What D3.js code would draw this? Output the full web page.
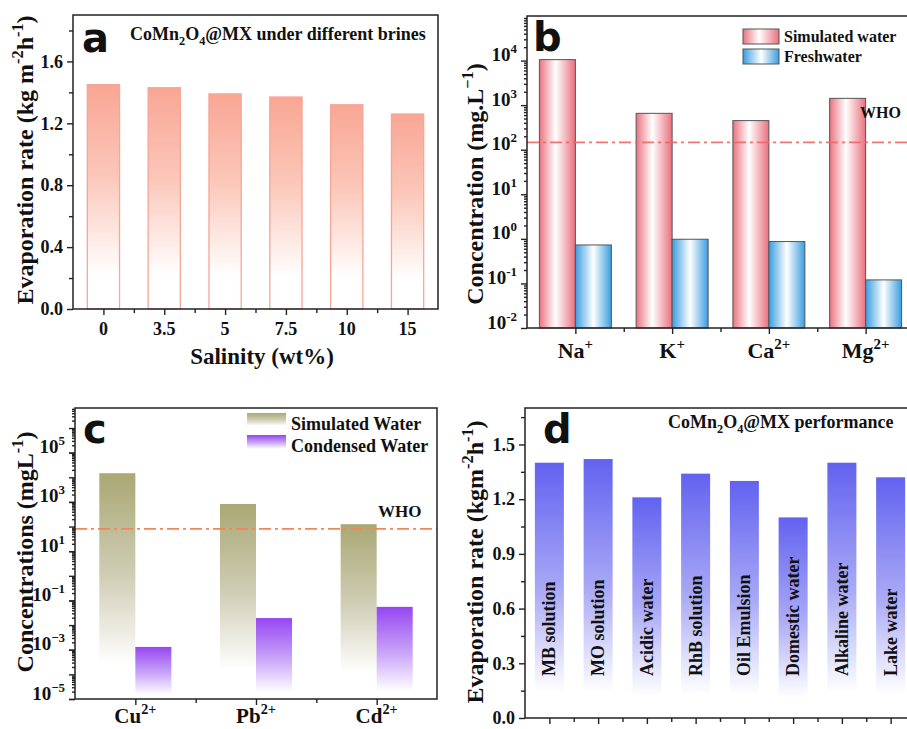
<!DOCTYPE html>
<html>
<head>
<meta charset="utf-8">
<script src="https://cdn.jsdelivr.net/npm/d3@7"></script>
<style>
  body { margin: 0; background: #fff; }
  svg { display: block; }
</style>
</head>
<body>
<div id="chart"></div>
<script>
// ---- data ----
const salinity = ["0", "3.5", "5", "7.5", "10", "15"];
const salinityRate = [1.45, 1.43, 1.39, 1.37, 1.32, 1.26];

const ionsB = ["Na", "K", "Ca", "Mg"];
const chargeB = ["+", "+", "2+", "2+"];
const simulatedB = [10500, 655, 450, 1420];
const freshB = [0.73, 0.98, 0.87, 0.12];
const whoB = 146;

const ionsC = ["Cu", "Pb", "Cd"];
const chargeC = ["2+", "2+", "2+"];
const simulatedC = [14600, 830, 125];
const condensedC = [0.0013, 0.0193, 0.055];
const whoC = 80;

const waterTypes = ["MB solution", "MO solution", "Acidic water", "RhB solution",
  "Oil Emulsion", "Domestic water", "Alkaline water", "Lake water"];
const waterRate = [1.40, 1.42, 1.21, 1.34, 1.30, 1.10, 1.40, 1.32];

const serif = "'Liberation Serif', 'Times New Roman', serif";
const W = 907, H = 729;

const svg = d3.select("#chart").append("svg")
  .attr("width", W).attr("height", H)
  .attr("font-family", serif).attr("font-weight", "bold");

const defs = svg.append("defs");
function vGrad(id, stops) {
  const g = defs.append("linearGradient").attr("id", id)
    .attr("x1", 0).attr("y1", 0).attr("x2", 0).attr("y2", 1);
  stops.forEach(s => g.append("stop").attr("offset", s[0]).attr("stop-color", s[1]));
}
function hGrad(id, stops) {
  const g = defs.append("linearGradient").attr("id", id)
    .attr("x1", 0).attr("y1", 0).attr("x2", 1).attr("y2", 0);
  stops.forEach(s => g.append("stop").attr("offset", s[0]).attr("stop-color", s[1]));
}
vGrad("gA", [[0, "#f9a694"], [0.4, "#fbc6b8"], [0.85, "#ffffff"], [1, "#ffffff"]]);
hGrad("gBsim", [[0, "#e9737f"], [0.45, "#ffffff"], [1, "#e9707d"]]);
hGrad("gBfresh", [[0, "#3a9de0"], [0.5, "#ffffff"], [1, "#3a9de0"]]);
vGrad("gCsim", [[0, "#aaa874"], [0.45, "#cfcdb4"], [0.85, "#ffffff"], [1, "#ffffff"]]);
vGrad("gCcond", [[0, "#9646f2"], [0.5, "#c9a4f8"], [0.92, "#ffffff"], [1, "#ffffff"]]);
vGrad("gD", [[0, "#6262f0"], [0.5, "#a9a9f6"], [0.9, "#ffffff"], [1, "#ffffff"]]);

// text with super/subscripts: parts = [[text, "sup"|"sub"|null], ...]
function rich(el, parts, size) {
  let shift = 0;
  parts.forEach(([t, k]) => {
    const target = k === "sup" ? -0.42 * size : k === "sub" ? 0.25 * size : 0;
    el.append("tspan").attr("dy", target - shift)
      .attr("font-size", k ? size * 0.68 : size).text(t);
    shift = target;
  });
  return el;
}

function frame(g, x0, x1, y0, y1) {
  g.append("rect").attr("x", x0).attr("y", y0)
    .attr("width", x1 - x0).attr("height", y1 - y0)
    .attr("fill", "none").attr("stroke", "#222").attr("stroke-width", 1.5);
}

function styleAxis(sel, size) {
  sel.attr("font-family", serif).attr("font-size", size).attr("font-weight", "bold");
  sel.select(".domain").remove();
  sel.selectAll(".tick line").attr("stroke", "#222").attr("stroke-width", 1.4);
  sel.selectAll(".tick text").attr("fill", "#111");
}

function xTicks(g, x, bottom) {
  const half = x.step() / 2;
  const centers = x.domain().map(d => x(d) + x.bandwidth() / 2);
  const lin = d3.scaleLinear().domain([0, 1]).range([0, 1]);
  g.append("g").attr("transform", `translate(0,${bottom})`)
    .call(d3.axisBottom(lin).tickValues(centers).tickSize(6).tickFormat(""))
    .call(s => styleAxis(s, 12));
  g.append("g").attr("transform", `translate(0,${bottom})`)
    .call(d3.axisBottom(lin).tickValues(centers.slice(0, -1).map(c => c + half)).tickSize(4).tickFormat(""))
    .call(s => styleAxis(s, 12));
}

function logTickLabels(sel, minus) {
  sel.selectAll(".tick text").each(function (d) {
    const e = Math.round(Math.log10(d));
    const t = d3.select(this).text(null);
    rich(t, [["10", null], [(e < 0 ? minus : "") + Math.abs(e), "sup"]], 19);
  });
}

function yTitle(g, x, y, parts) {
  const t = g.append("text").attr("transform", `translate(${x},${y}) rotate(-90)`)
    .attr("text-anchor", "middle").attr("fill", "#111");
  rich(t, parts, 24);
}

function letter(g, x, y, s) {
  g.append("text").attr("x", x).attr("y", y)
    .attr("font-family", "'DejaVu Sans', sans-serif").attr("font-size", 40)
    .attr("font-weight", "bold").attr("fill", "#111").text(s);
}

// ================= panel a =================
{
  const g = svg.append("g");
  const L = 73, R = 438, T = 15, B = 309;
  const x = d3.scaleBand().domain(salinity).range([L, R]).paddingInner(0.47).paddingOuter(0.235);
  const y = d3.scaleLinear().domain([0, 1.9]).range([B, T]);

  g.selectAll(".barA").data(salinity).enter().append("rect")
    .attr("x", d => x(d)).attr("y", (d, i) => y(salinityRate[i]))
    .attr("width", x.bandwidth()).attr("height", (d, i) => B - y(salinityRate[i]))
    .attr("fill", "url(#gA)").attr("stroke", "#f6a697").attr("stroke-width", 1.3);

  g.append("g").attr("transform", `translate(${L},0)`)
    .call(d3.axisLeft(y).tickValues([0, 0.4, 0.8, 1.2, 1.6]).tickSize(6).tickPadding(4).tickFormat(d3.format(".1f")))
    .call(s => styleAxis(s, 18));
  g.append("g").attr("transform", `translate(${L},0)`)
    .call(d3.axisLeft(y).tickValues([0.2, 0.6, 1.0, 1.4, 1.8]).tickSize(4).tickFormat(""))
    .call(s => styleAxis(s, 18));
  xTicks(g, x, B);

  g.selectAll(".xlA").data(salinity).enter().append("text")
    .attr("x", d => x(d) + x.bandwidth() / 2).attr("y", 335)
    .attr("text-anchor", "middle").attr("font-size", 18).attr("fill", "#111").text(d => d);

  frame(g, L, R, T, B);
  g.append("text").attr("x", 262).attr("y", 364).attr("text-anchor", "middle")
    .attr("font-size", 23).attr("fill", "#111").text("Salinity (wt%)");
  yTitle(g, 33, 160, [["Evaporation rate (kg m", null], ["-2", "sup"], ["h", null], ["-1", "sup"], [")", null]]);
  const tt = g.append("text").attr("x", 130).attr("y", 40).attr("fill", "#111");
  rich(tt, [["CoMn", null], ["2", "sub"], ["O", null], ["4", "sub"], ["@MX under different brines", null]], 18);
  letter(g, 82, 52, "a");
}

// ================= panel b =================
{
  const g = svg.append("g");
  const L = 527, R = 914, T = 16, B = 328;
  const x = d3.scaleBand().domain(ionsB).range([L, R]).paddingInner(0.256).paddingOuter(0.128);
  const xs = d3.scaleBand().domain(["sim", "fresh"]).range([0, x.bandwidth()]);
  const y = d3.scaleLog().domain([1e-2, 1e5]).range([B, T]);

  g.selectAll(".bSim").data(ionsB).enter().append("rect")
    .attr("x", d => x(d) + xs("sim")).attr("y", (d, i) => y(simulatedB[i]))
    .attr("width", xs.bandwidth()).attr("height", (d, i) => B - y(simulatedB[i]))
    .attr("fill", "url(#gBsim)").attr("stroke", "#555").attr("stroke-width", 1);
  g.selectAll(".bFresh").data(ionsB).enter().append("rect")
    .attr("x", d => x(d) + xs("fresh")).attr("y", (d, i) => y(freshB[i]))
    .attr("width", xs.bandwidth()).attr("height", (d, i) => B - y(freshB[i]))
    .attr("fill", "url(#gBfresh)").attr("stroke", "#555").attr("stroke-width", 1);

  g.append("line").attr("x1", L).attr("x2", R).attr("y1", y(whoB)).attr("y2", y(whoB))
    .attr("stroke", "#f26666").attr("stroke-width", 1.8).attr("stroke-dasharray", "12,4,3,4").attr("opacity", 0.9);
  g.append("text").attr("x", 860).attr("y", 118).attr("font-size", 16).attr("fill", "#111").text("WHO");

  const majors = d3.range(-2, 6).map(e => Math.pow(10, e));
  const minors = [];
  d3.range(-2, 5).forEach(e => d3.range(2, 10).forEach(m => minors.push(m * Math.pow(10, e))));
  g.append("g").attr("transform", `translate(${L},0)`)
    .call(d3.axisLeft(y).tickValues(minors).tickSize(3).tickFormat(""))
    .call(s => styleAxis(s, 18));
  g.append("g").attr("transform", `translate(${L},0)`)
    .call(d3.axisLeft(y).tickValues(majors.slice(0, -1)).tickSize(6).tickPadding(4))
    .call(s => styleAxis(s, 19))
    .call(s => logTickLabels(s, "-"));
  xTicks(g, x, B);

  ionsB.forEach((d, i) => {
    const t = g.append("text").attr("x", x(d) + x.bandwidth() / 2).attr("y", 358)
      .attr("text-anchor", "middle").attr("fill", "#111");
    rich(t, [[d, null], [chargeB[i], "sup"]], 22);
  });

  frame(g, L, R, T, B);
  yTitle(g, 483, 184, [["Concentration (mg.L", null], ["\u22121", "sup"], [")", null]]);

  // legend
  const leg = [["Simulated water", "url(#gBsim)"], ["Freshwater", "url(#gBfresh)"]];
  leg.forEach((l, i) => {
    g.append("rect").attr("x", 743).attr("y", 29 + i * 20).attr("width", 36).attr("height", 15)
      .attr("fill", l[1]).attr("stroke", "#555").attr("stroke-width", 1);
    g.append("text").attr("x", 784).attr("y", 42 + i * 20).attr("font-size", 16)
      .attr("fill", "#111").text(l[0]);
  });
  letter(g, 533, 51, "b");
}

// ================= panel c =================
{
  const g = svg.append("g");
  const L = 75, R = 437, T = 408, B = 699;
  const x = d3.scaleBand().domain(ionsC).range([L, R]).paddingInner(0.403).paddingOuter(0.2015);
  const xs = d3.scaleBand().domain(["sim", "cond"]).range([0, x.bandwidth()]);
  const y = d3.scaleLog().domain([1e-5, 6.5e6]).range([B, T]);

  g.selectAll(".cSim").data(ionsC).enter().append("rect")
    .attr("x", d => x(d) + xs("sim")).attr("y", (d, i) => y(simulatedC[i]))
    .attr("width", xs.bandwidth()).attr("height", (d, i) => B - y(simulatedC[i]))
    .attr("fill", "url(#gCsim)");
  g.selectAll(".cCond").data(ionsC).enter().append("rect")
    .attr("x", d => x(d) + xs("cond")).attr("y", (d, i) => y(condensedC[i]))
    .attr("width", xs.bandwidth()).attr("height", (d, i) => B - y(condensedC[i]))
    .attr("fill", "url(#gCcond)");

  g.append("line").attr("x1", L).attr("x2", R).attr("y1", y(whoC)).attr("y2", y(whoC))
    .attr("stroke", "#f0865a").attr("stroke-width", 1.8).attr("stroke-dasharray", "12,4,3,4");
  g.append("text").attr("x", 378).attr("y", 517).attr("font-size", 17).attr("fill", "#111").text("WHO");

  const majors = d3.range(-5, 7).map(e => Math.pow(10, e));
  const minors = [];
  d3.range(-5, 7).forEach(e => d3.range(2, 10).forEach(m => {
    const v = m * Math.pow(10, e);
    if (v <= 6.5e6) minors.push(v);
  }));
  g.append("g").attr("transform", `translate(${L},0)`)
    .call(d3.axisLeft(y).tickValues(minors).tickSize(3).tickFormat(""))
    .call(s => styleAxis(s, 18));
  g.append("g").attr("transform", `translate(${L},0)`)
    .call(d3.axisLeft(y).tickValues(majors).tickSize(6).tickFormat(""))
    .call(s => styleAxis(s, 18));
  g.append("g").attr("transform", `translate(${L},0)`)
    .call(d3.axisLeft(y).tickValues([1e-5, 1e-3, 1e-1, 1e1, 1e3, 1e5]).tickSize(6).tickPadding(4))
    .call(s => styleAxis(s, 19))
    .call(s => logTickLabels(s, "\u2212"));
  xTicks(g, x, B);

  ionsC.forEach((d, i) => {
    const t = g.append("text").attr("x", x(d) + x.bandwidth() / 2).attr("y", 723)
      .attr("text-anchor", "middle").attr("fill", "#111");
    rich(t, [[d, null], [chargeC[i], "sup"]], 21);
  });

  frame(g, L, R, T, B);
  yTitle(g, 33, 552, [["Concentrations (mgL", null], ["-1", "sup"], [")", null]]);

  const leg = [["Simulated Water", "url(#gCsim)"], ["Condensed Water", "url(#gCcond)"]];
  leg.forEach((l, i) => {
    g.append("rect").attr("x", 247).attr("y", 413 + i * 22).attr("width", 39).attr("height", 15)
      .attr("fill", l[1]);
    g.append("text").attr("x", 291).attr("y", 430 + i * 22).attr("font-size", 18)
      .attr("fill", "#111").text(l[0]);
  });
  letter(g, 83, 443, "c");
}

// ================= panel d =================
{
  const g = svg.append("g");
  const L = 525, R = 915, T = 408, B = 718;
  const x = d3.scaleBand().domain(waterTypes).range([L, R]).paddingInner(0.405).paddingOuter(0.2025);
  const y = d3.scaleLinear().domain([0, 1.7]).range([B, T]);

  g.selectAll(".barD").data(waterTypes).enter().append("rect")
    .attr("x", d => x(d)).attr("y", (d, i) => y(waterRate[i]))
    .attr("width", x.bandwidth()).attr("height", (d, i) => B - y(waterRate[i]))
    .attr("fill", "url(#gD)");

  g.selectAll(".lblD").data(waterTypes).enter().append("text")
    .attr("transform", d => `translate(${x(d) + x.bandwidth() / 2 + 6},676) rotate(-90)`)
    .attr("font-size", 18).attr("fill", "#111").text(d => d);

  g.append("g").attr("transform", `translate(${L},0)`)
    .call(d3.axisLeft(y).tickValues([0, 0.3, 0.6, 0.9, 1.2, 1.5]).tickSize(6).tickPadding(4).tickFormat(d3.format(".1f")))
    .call(s => styleAxis(s, 18));
  g.append("g").attr("transform", `translate(${L},0)`)
    .call(d3.axisLeft(y).tickValues([0.15, 0.45, 0.75, 1.05, 1.35, 1.65]).tickSize(4).tickFormat(""))
    .call(s => styleAxis(s, 18));
  xTicks(g, x, B);

  frame(g, L, R, T, B);
  yTitle(g, 483, 562, [["Evaporation rate (kgm", null], ["-2", "sup"], ["h", null], ["-1", "sup"], [")", null]]);
  const tt = g.append("text").attr("x", 668).attr("y", 428).attr("fill", "#111");
  rich(tt, [["CoMn", null], ["2", "sub"], ["O", null], ["4", "sub"], ["@MX performance", null]], 18);
  letter(g, 543, 443, "d");
}
</script>
</body>
</html>
